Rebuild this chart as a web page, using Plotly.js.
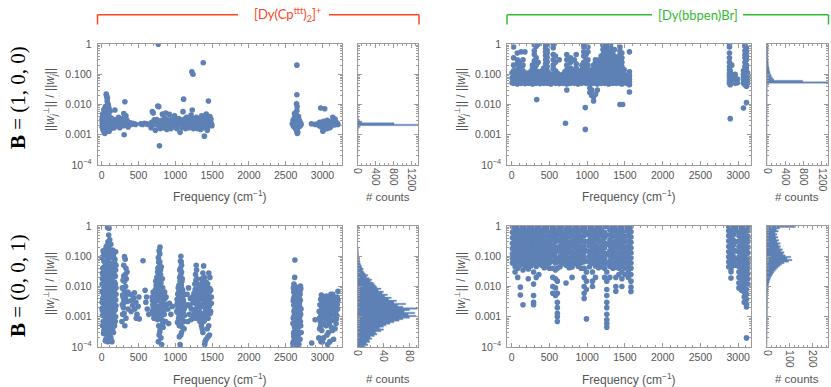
<!DOCTYPE html>
<html><head><meta charset="utf-8">
<script src="https://cdn.plot.ly/plotly-3.0.1.min.js"></script>
<style>html,body{margin:0;padding:0;background:#fff}#chart{width:831px;height:387px}</style>
</head><body><div id="chart"></div>
<script>
// ---------- DATA ----------
// Top-left: [Dy(Cpttt)2]+, B=(1,0,0)  — [frequency, ratio]
const tlPoints = [
[8,0.0024],[12,0.0029],[16,0.0019],[20,0.0034],[24,0.0022],[28,0.0026],[32,0.0016],[36,0.0041],[40,0.0023],[44,0.0028],[48,0.0020],[52,0.0031],[56,0.0024],[60,0.0017],[64,0.0027],[68,0.0036],[72,0.0022],[76,0.0025],[80,0.0019],[84,0.0030],[88,0.0023],[92,0.0027],[96,0.0021],[100,0.0025],[105,0.0033],[110,0.0022],[118,0.0026],[125,0.0020],[132,0.0024],[140,0.0029],[148,0.0022],[156,0.0025],[165,0.0021],[175,0.0024],
[14,0.0048],[26,0.0013],[38,0.0058],[46,0.0012],[58,0.0046],[66,0.0014],[74,0.0052],[86,0.0016],[94,0.0044],[102,0.0013],[112,0.0038],[122,0.0016],[135,0.0035],[150,0.0017],[10,0.0038],[30,0.0068],[50,0.0085],[62,0.022],[66,0.0195],[70,0.018],[78,0.016],[74,0.013],[82,0.011],[90,0.0095],[100,0.0075],[115,0.0060],[180,0.0066],[42,0.0011],[18,0.0015],
[4,0.0031],[22,0.0040],[34,0.0027],[54,0.0036],[78,0.0033],[98,0.0029],[128,0.0030],[160,0.0031],[6,0.0018],[40,0.0019],[70,0.0016],[108,0.0019],[144,0.0020],[170,0.0017],
[190,0.0023],[205,0.0026],[220,0.0021],[235,0.0024],[250,0.0022],[265,0.0027],[280,0.0023],[295,0.0020],[310,0.0025],[325,0.0022],[340,0.0024],[355,0.0021],[370,0.0023],[385,0.0025],[400,0.0022],[420,0.0024],[440,0.0023],[460,0.0022],[200,0.0032],[245,0.0017],[285,0.0034],[300,0.0050],[315,0.0123],[305,0.0010],[330,0.0042],[345,0.0030],[360,0.0018],[230,0.0038],
[530,0.0023],[555,0.0022],[580,0.0024],[605,0.0023],[630,0.0022],
[665,0.0023],[680,0.0026],[695,0.0021],[710,0.0024],[725,0.0022],[740,0.0027],[755,0.0023],[770,0.0020],[785,0.0025],[800,0.0022],[815,0.0024],[830,0.0021],[845,0.0026],[860,0.0023],[875,0.0020],[890,0.0024],[905,0.0022],[920,0.0025],[935,0.0023],[950,0.0021],[965,0.0024],[980,0.0022],[995,0.0026],[1010,0.0023],[1025,0.0021],[1040,0.0024],[1055,0.0022],[1070,0.0025],[1085,0.0023],[1100,0.0021],[1115,0.0024],[1130,0.0022],[1145,0.0026],[1160,0.0023],[1175,0.0021],[1190,0.0025],[1205,0.0022],[1220,0.0024],[1235,0.0021],[1250,0.0026],[1265,0.0023],[1280,0.0020],[1295,0.0025],[1310,0.0022],[1325,0.0027],
[672,0.0017],[688,0.0058],[700,0.0052],[715,0.0031],[730,0.0014],[748,0.0032],[762,0.0089],[775,0.0085],[770,0.99],[785,0.00043],[795,0.0016],[812,0.0030],[825,0.0048],[840,0.0017],[858,0.0035],[870,0.0052],[885,0.0015],[900,0.0031],[918,0.0047],[940,0.0016],[958,0.0033],[975,0.0018],[990,0.0042],[1005,0.0032],[1020,0.0016],[1048,0.0034],[1065,0.0012],[1078,0.0030],[1092,0.0017],[1105,0.0058],[1113,0.015],[1125,0.0033],[1140,0.0016],[1155,0.0038],[1170,0.0030],[1185,0.0017],[1200,0.0035],[1215,0.0045],[1225,0.12],[1240,0.10],[1230,0.0066],[1245,0.0016],[1258,0.0034],[1272,0.0017],[1288,0.0038],[1300,0.0016],[1315,0.0033],[1330,0.0018],
[1340,0.0023],[1348,0.0029],[1355,0.0019],[1362,0.0026],[1370,0.0032],[1378,0.0021],[1385,0.0025],[1392,0.0017],[1400,0.0028],[1408,0.0023],[1415,0.0036],[1422,0.0020],[1430,0.0026],[1438,0.0022],[1445,0.0031],[1452,0.0019],[1460,0.0024],[1468,0.0028],[1475,0.0021],[1482,0.0025],[1490,0.0023],[1498,0.0020],[1380,0.24],[1450,0.013],[1395,0.0009],[1360,0.0042],[1420,0.0048],[1470,0.0040],[1345,0.0015],[1435,0.0014],[1390,0.0035],[1485,0.0033],
[2590,0.0023],[2600,0.0030],[2605,0.0019],[2612,0.0026],[2618,0.0036],[2622,0.0021],[2628,0.0045],[2632,0.0016],[2638,0.0028],[2642,0.0055],[2646,0.0024],[2650,0.0013],[2652,0.0062],[2655,0.0020],[2660,0.0032],[2665,0.0017],[2670,0.0026],[2675,0.0040],[2680,0.0022],[2686,0.0030],[2692,0.0019],[2700,0.0025],[2710,0.0022],[2648,0.0105],[2655,0.0085],[2652,0.021],[2652,0.2],[2658,0.0011],[2620,0.0050],[2664,0.0012],
[2850,0.0023],[2900,0.0022],
[2945,0.0024],[2955,0.0020],[2965,0.0026],[2975,0.0022],[2985,0.0018],[2995,0.0025],[3005,0.0021],[3015,0.0028],[3025,0.0023],[3035,0.0019],[3045,0.0026],[3055,0.0022],[3065,0.0030],[3075,0.0024],[3085,0.0020],[3095,0.0027],[3105,0.0023],[3115,0.0019],[3125,0.0025],[3135,0.0022],[3145,0.0028],[3155,0.0024],[3165,0.0021],[3175,0.0026],[3185,0.0023],[3195,0.0025],[3210,0.0022],[2975,0.0077],[3030,0.0072],[3005,0.0013],[3015,0.0015],[3140,0.0038],[3170,0.0033],[3060,0.0016],[3100,0.0017]
];

// Top-right: [Dy(bbpen)Br], B=(1,0,0) — [frequency, [ratios at that frequency]]
const trColumns = [
[5,[0.052,0.075,0.11]],[25,[0.05,0.065,0.09,0.13,0.2,0.35,0.8]],[50,[0.055,0.08,0.1]],[75,[0.048,0.07,0.095,0.14,0.22,0.3,0.5]],[100,[0.053,0.068,0.12,0.17,0.25]],[125,[0.05,0.085,0.105,0.55]],[150,[0.056,0.072,0.1,0.13,0.2,0.3]],[175,[0.049,0.066,0.09,0.55]],[200,[0.052,0.078,0.11]],[225,[0.05,0.062,0.085]],[250,[0.055,0.07,0.095,0.12]],[275,[0.048,0.068,0.1,0.15,0.2]],[300,[0.053,0.075,0.11,0.16,0.28,0.45,0.6,0.95]],[325,[0.05,0.065,0.09,0.13,0.2,0.35,0.85]],[332,[0.0145]],[350,[0.055,0.08,0.12,0.25,0.98]],[375,[0.049,0.07,0.095]],[400,[0.052,0.065,0.088,0.13]],[425,[0.05,0.075,0.11,0.16]],[450,[0.056,0.07,0.1,0.14,0.22,0.3,0.42,0.55,0.7,0.9]],[470,[0.05,0.068,0.095,0.13,0.18,0.26,0.36,0.5,0.62,0.98]],[495,[0.053,0.08,0.11]],[520,[0.048,0.066,0.09]],[550,[0.055,0.072,0.1,0.15,0.2,0.3,0.45,0.75,0.98]],[580,[0.05,0.065,0.09,0.13,0.25,0.4]],[605,[0.052,0.078,0.11]],[630,[0.049,0.068,0.095,0.3]],[655,[0.053,0.075]],[680,[0.05,0.07,0.1]],[705,[0.055,0.065,0.09,0.12]],[713,[0.0024]],[730,[0.048,0.072,0.1,0.14,0.2,0.3,0.45,0.03]],[755,[0.052,0.068,0.095,0.13]],[780,[0.05,0.08,0.11,0.16,0.25,0.35]],[805,[0.056,0.07,0.1,0.14]],[830,[0.05,0.066,0.09,0.13,0.3]],[855,[0.053,0.075,0.11,0.16,0.22,0.45]],[880,[0.048,0.065,0.088]],[905,[0.052,0.072,0.1,0.13]],[930,[0.05,0.07,0.095,0.14,0.2]],[955,[0.055,0.08,0.11,0.16,0.25,0.4,0.55,0.8,0.98]],[975,[0.0079,0.0015]],[985,[0.05,0.068,0.09,0.13,0.22,0.3,0.45]],[1010,[0.053,0.075,0.1,0.14,0.2,0.3,0.55,0.8]],[1035,[0.049,0.065,0.09,0.12,0.035,0.025]],[1060,[0.052,0.072,0.1,0.14,0.02,0.03]],[1085,[0.05,0.07,0.095,0.13,0.2,0.013,0.018]],[1110,[0.055,0.08,0.11,0.16,0.25,0.3,0.022]],[1135,[0.048,0.066,0.09,0.13,0.2,0.03]],[1160,[0.053,0.075,0.1,0.14,0.22,0.3]],[1185,[0.05,0.068,0.095,0.13,0.18,0.25,0.4]],[1210,[0.052,0.072,0.1,0.14,0.2,0.3,0.45,0.65,0.9,0.98]],[1235,[0.05,0.07,0.095,0.13,0.18,0.26,0.38,0.5,0.75]],[1260,[0.055,0.08,0.11,0.16,0.22,0.32,0.45,0.6,0.85,0.98]],[1285,[0.048,0.066,0.09,0.13,0.19,0.27,0.4,0.55,0.7]],[1310,[0.053,0.075,0.1,0.14,0.2,0.3,0.42,0.6,0.8,0.98]],[1335,[0.05,0.068,0.095,0.13,0.18,0.26,0.36,0.5]],[1360,[0.052,0.072,0.1,0.14,0.2,0.28,0.4,0.65]],[1385,[0.05,0.07,0.095,0.13,0.18,0.25,0.35]],[1410,[0.055,0.08,0.11,0.16,0.22,0.3]],[1434,[0.01,0.05,0.07,0.09,0.12,0.2,0.3,0.45,0.6,0.8]],[1460,[0.048,0.066,0.09,0.13,0.18,0.25,0.35,0.5]],[1470,[0.01]],[1490,[0.053,0.075,0.1,0.14]],[1520,[0.05,0.068,0.09]],[1560,[0.026,0.045,0.055,0.07,0.09,0.12,0.55]],
[2885,[0.05,0.06,0.075,0.09,0.11,0.14,0.18,0.25,0.35,0.5,0.8,0.98]],[2895,[0.0034,0.045,0.065,0.085,0.1,0.13]],[2915,[0.055,0.07,0.095,0.2]],[2960,[0.05,0.065,0.08,0.1]],[2990,[0.052,0.07]],[3070,[0.0076,0.05,0.065,0.08,0.1,0.13]],[3090,[0.045,0.055,0.07,0.09,0.11,0.14,0.18,0.25,0.35,0.45,0.6,0.85,0.98]],[3110,[0.0115,0.04,0.05,0.06,0.075,0.095,0.12,0.16,0.2,0.3,0.4,0.55,0.75]],[3125,[0.05,0.065,0.085,0.11]]
];

// Bottom-left: [Dy(Cpttt)2]+, B=(0,0,1) — [frequency, ratio]
const blPoints = [
[20,0.15],[45,0.11],[70,0.19],[95,0.13],[120,0.09],[150,0.16],[180,0.08],[30,0.07],[60,0.055],[85,0.085],[110,0.06],[140,0.045],[170,0.05],[190,0.035],[15,0.04],[40,0.03],[65,0.038],[90,0.028],[115,0.033],[135,0.025],[160,0.03],[185,0.022],
[80,0.9],[100,0.85],[95,0.5],[110,0.35],[85,0.3],[125,0.25],[70,0.22],[60,0.2],
[10,0.018],[35,0.014],[55,0.02],[80,0.016],[105,0.012],[130,0.017],[155,0.011],[175,0.014],[195,0.009],[25,0.01],[50,0.0085],[75,0.011],[100,0.0075],[125,0.009],[150,0.0065],[170,0.008],[20,0.006],[45,0.0055],[70,0.0068],[95,0.0048],[120,0.0058],[145,0.0044],[165,0.005],[190,0.0036],[15,0.004],[40,0.0033],[60,0.0038],[85,0.003],[110,0.0035],[135,0.0028],[160,0.0031],[180,0.0024],[30,0.0025],[55,0.0022],[80,0.0026],[105,0.002],[130,0.0023],[155,0.0018],[175,0.0021],
[10,0.0016],[35,0.0014],[65,0.0017],[90,0.0013],[115,0.0015],[140,0.0012],[165,0.0014],[190,0.001],[25,0.0011],[50,0.00095],[75,0.0011],[100,0.00085],[125,0.001],[150,0.0008],[170,0.0009],[20,0.0007],[45,0.00065],[70,0.0008],[95,0.0006],[120,0.00072],[145,0.00055],[160,0.00062],[40,0.00048],[65,0.00042],[85,0.0005],[110,0.00038],[130,0.00045],[60,0.0003],[95,0.00032],[115,0.00026],[80,0.00022],[50,0.00016],[105,0.00018],[140,0.00015],[30,0.00035],
[5,0.09],[30,0.12],[55,0.14],[80,0.1],[105,0.17],[130,0.12],[160,0.1],[190,0.14],[10,0.028],[35,0.045],[50,0.065],[75,0.045],[100,0.04],[125,0.055],[150,0.038],[175,0.065],[195,0.05],[20,0.024],[45,0.02],[70,0.03],[95,0.021],[120,0.026],[145,0.019],[170,0.025],[5,0.012],[30,0.016],[60,0.013],[90,0.018],[115,0.009],[140,0.013],[165,0.009],[185,0.012],[5,0.007],[35,0.0075],[65,0.0092],[85,0.0062],[110,0.0085],[140,0.008],[175,0.006],[195,0.0055],[5,0.003],[25,0.0045],[50,0.0027],[75,0.0041],[100,0.0029],[125,0.004],[150,0.0026],[170,0.0038],[195,0.0023],[5,0.0019],[30,0.0017],[60,0.0019],[85,0.0021],[110,0.0017],[135,0.0019],[160,0.0016],[185,0.0017],[10,0.0011],[40,0.0012],[60,0.001],[90,0.00095],[110,0.0012],[135,0.0008],[160,0.0011],[185,0.0007],[10,0.0005],[35,0.00058],[55,0.00052],[75,0.00045],[105,0.0005],[125,0.00058],[150,0.00042],[175,0.0005],[25,0.00028],[70,0.00028],[90,0.00025],[120,0.00032],[160,0.0003],[60,0.00019],[125,0.0002],[85,0.00015],
[275,0.0007],[285,0.0012],[295,0.002],[305,0.0035],[315,0.006],[325,0.01],[335,0.018],[345,0.03],[300,0.05],[320,0.08],[310,0.097],[280,0.0025],[290,0.0045],[300,0.008],[310,0.015],[320,0.025],[330,0.04],[340,0.0055],[350,0.0032],[360,0.0018],[330,0.0009],[315,0.0005],[305,0.0013],[295,0.0028],[285,0.0052],[280,0.009],[290,0.016],[300,0.022],[355,0.0065],[325,0.0042],
[390,0.0055],[405,0.0035],[420,0.0024],[435,0.0042],[450,0.0018],[465,0.003],[480,0.0012],[495,0.0022],[510,0.00085],[400,0.0015],[445,0.0062],[470,0.0009],[505,0.0045],
[562,0.071],[590,0.0075],[610,0.0045],[600,0.003],[620,0.0018],[640,0.0012],
[685,0.0045],[695,0.0025],[705,0.0012],[715,0.0065],[725,0.0018],[735,0.0035],[745,0.0009],[755,0.0055],[765,0.015],[775,0.025],[785,0.045],[792,0.2],[780,0.15],[770,0.09],[790,0.065],[800,0.035],[760,0.03],[750,0.02],[740,0.011],[730,0.008],[720,0.0028],[710,0.0045],[700,0.0065],[690,0.0015],[760,0.0008],[775,0.0005],[790,0.00032],[805,0.0002],[815,0.00012],[800,0.0015],[810,0.003],[820,0.005],[830,0.009],[840,0.0022],[850,0.0012],[860,0.004],[870,0.0007],[880,0.0025],[795,0.0095],[785,0.006],[770,0.0035],[820,0.0008],[835,0.00045],[845,0.0055],[765,0.0022],[780,0.0016],[805,0.013],[825,0.018],[812,0.0068],
[690,0.0035],[700,0.002],[710,0.0009],[720,0.006],[730,0.0045],[740,0.0022],[750,0.0013],[760,0.0045],[770,0.007],[780,0.011],[790,0.018],[800,0.025],[810,0.045],[775,0.065],[765,0.04],[755,0.012],[745,0.0075],[735,0.015],[800,0.0055],[810,0.0011],[795,0.0004],[780,0.00025],[770,0.00015],[785,0.0009],[795,0.0022],[805,0.0038],[815,0.0085],[825,0.0032],[835,0.0016],[845,0.0028],[855,0.0065],[865,0.0018],[875,0.0045],[760,0.0012],[725,0.0012],[740,0.0055],[830,0.0006],[850,0.0025],[790,0.12],[780,0.045],[770,0.028],[805,0.0075],
[900,0.0018],[920,0.0028],[940,0.0012],[960,0.0022],[910,0.0006],
[1020,0.0015],[1030,0.003],[1040,0.006],[1050,0.011],[1060,0.02],[1070,0.04],[1076,0.1],[1080,0.065],[1085,0.03],[1090,0.015],[1095,0.008],[1100,0.0045],[1105,0.0025],[1110,0.0013],[1115,0.0007],[1120,0.0004],[1075,0.00025],[1065,0.00012],[1055,0.0005],[1045,0.0009],[1035,0.0018],[1025,0.0038],[1060,0.0065],[1070,0.0035],[1080,0.0016],[1090,0.0028],[1100,0.0012],[1125,0.0055],[1130,0.0022],[1085,0.0085],[1050,0.0025],[1075,0.013],[1065,0.0009],
[1025,0.0025],[1035,0.0055],[1045,0.004],[1055,0.0075],[1065,0.015],[1075,0.025],[1085,0.05],[1070,0.07],[1060,0.035],[1080,0.0045],[1090,0.0055],[1100,0.0075],[1110,0.0035],[1120,0.0018],[1105,0.00075],[1095,0.00045],[1085,0.0003],[1075,0.00055],[1060,0.0012],[1050,0.0017],[1040,0.0013],[1030,0.00065],[1045,0.0025],[1115,0.0028],[1125,0.0011],[1055,0.00022],[1070,0.0021],[1080,0.011],[1095,0.018],[1040,0.009],
[1160,0.0055],[1175,0.0025],[1190,0.0012],[1205,0.004],[1180,0.009],[1170,0.0007],[1220,0.0018],[1240,0.003],[1255,0.006],[1265,0.012],[1275,0.025],[1285,0.05],[1295,0.018],[1305,0.008],[1315,0.0035],[1325,0.0015],[1335,0.0007],[1270,0.0028],[1280,0.0045],[1290,0.0009],[1300,0.0022],[1310,0.0012],[1320,0.0065],[1330,0.011],[1260,0.0016],[1245,0.0009],
[1345,0.004],[1355,0.0075],[1365,0.014],[1375,0.028],[1385,0.048],[1395,0.02],[1405,0.01],[1415,0.0055],[1425,0.003],[1435,0.0016],[1445,0.0009],[1455,0.0005],[1465,0.00025],[1400,0.00012],[1420,0.00018],[1350,0.0013],[1360,0.0025],[1370,0.0045],[1380,0.0085],[1390,0.0032],[1410,0.0018],[1430,0.0065],[1440,0.012],[1450,0.0035],[1460,0.0022],[1470,0.0042],[1480,0.0075],[1490,0.0028],[1475,0.0013],[1385,0.0007],[1365,0.0004],[1455,0.028],[1470,0.02],
[1200,0.0022],[1215,0.0008],[1230,0.0045],[1250,0.0012],[1260,0.004],[1270,0.008],[1280,0.016],[1290,0.035],[1300,0.012],[1310,0.0055],[1320,0.0025],[1330,0.0045],[1340,0.0022],[1350,0.0095],[1360,0.018],[1370,0.0065],[1380,0.0012],[1390,0.0055],[1400,0.0032],[1410,0.0095],[1420,0.014],[1430,0.0025],[1440,0.0045],[1450,0.0012],[1460,0.0065],[1470,0.0085],[1480,0.0015],[1490,0.0045],[1355,0.0005],[1375,0.0003],[1395,0.00075],[1415,0.0009],[1435,0.0004],[1445,0.00022],[1405,0.00015],[1345,0.0009],[1285,0.0018],[1305,0.0011],[1325,0.0008],[1365,0.0022],[1425,0.0045],[1395,0.0013],
[2600,0.0001],[2605,0.00015],[2610,0.00022],[2615,0.00032],[2620,0.00045],[2625,0.00065],[2630,0.0009],[2635,0.0013],[2640,0.0018],[2645,0.0025],[2650,0.0035],[2655,0.0048],[2660,0.0065],[2665,0.0085],[2625,0.075],[2622,0.02],[2612,0.012],[2605,0.009],[2700,0.0104],[2690,0.0085],[2695,0.0055],[2685,0.004],[2675,0.003],[2670,0.002],[2680,0.0014],[2690,0.001],[2700,0.0007],[2705,0.0005],[2710,0.0003],[2695,0.00018],[2680,0.00012],[2670,0.00025],[2660,0.00038],[2650,0.00055],[2640,0.0008],[2630,0.0012],[2620,0.0017],[2610,0.0024],[2603,0.0033],[2615,0.0045],[2628,0.0062],[2638,0.0028],[2648,0.0016],[2658,0.0011],[2668,0.0007],[2678,0.00048],[2688,0.0003],[2598,0.0006],[2608,0.004],[2618,0.0075],[2635,0.0042],[2655,0.0022],[2665,0.0014],[2645,0.00018],[2620,0.00012],
[2598,0.00013],[2608,0.00028],[2618,0.00055],[2628,0.00028],[2638,0.00045],[2648,0.00038],[2658,0.00075],[2668,0.0045],[2678,0.0065],[2688,0.0022],[2698,0.0035],[2703,0.0012],[2708,0.0018],[2693,0.0013],[2683,0.0009],[2673,0.00055],[2663,0.00016],[2653,0.00012],[2643,0.0011],[2633,0.0019],[2623,0.0027],[2613,0.0015],[2603,0.0009],[2615,0.0011],[2625,0.0035],[2635,0.0065],[2645,0.0048],[2655,0.0032],[2665,0.0038],[2675,0.0017],[2685,0.0028],[2695,0.0072],[2705,0.0085],[2610,0.0065],[2640,0.0095],[2660,0.0025],[2625,0.00085],
[2853,0.000135],[2900,0.0008],
[2950,0.0002],[2960,0.0004],[2970,0.0007],[2980,0.0012],[2990,0.002],[3000,0.0033],[3010,0.0046],[3020,0.0028],[3030,0.0016],[3040,0.0009],[3050,0.0005],[3060,0.00025],[3070,0.00012],[3080,0.0003],[3090,0.0006],[3100,0.001],[3110,0.0018],[3120,0.003],[3130,0.0045],[3140,0.0025],[3150,0.0014],[3160,0.0008],[3170,0.0004],[3180,0.0015],[3190,0.0028],[3200,0.0045],[3210,0.007],[2955,0.0015],[2965,0.0025],[2975,0.0038],[2985,0.0052],[2995,0.0009],[3005,0.00055],[3015,0.0002],[3025,0.0011],[3035,0.0022],[3045,0.0037],[3055,0.0048],[3065,0.0019],[3075,0.0008],[3085,0.0013],[3095,0.0026],[3105,0.0040],[3115,0.0055],[3125,0.00075],[3135,0.00035],[3145,0.0012],[3155,0.0023],[3165,0.0035],[3175,0.0020],[3185,0.0006],[3195,0.0011],[3205,0.0018],[2980,0.00015],[3100,0.00015],[3150,0.00018],
[2960,0.0009],[2975,0.0005],[2990,0.00035],[3000,0.00015],[3010,0.0015],[3020,0.0006],[3035,0.0045],[3050,0.0028],[3060,0.0012],[3070,0.0035],[3080,0.0021],[3090,0.0045],[3100,0.0032],[3110,0.0008],[3120,0.00045],[3130,0.0015],[3140,0.0055],[3150,0.0035],[3160,0.0022],[3170,0.0012],[3180,0.0042],[3190,0.00085],[3200,0.0025],[3210,0.0035]
];

// Bottom-right: [Dy(bbpen)Br], B=(0,0,1) — [frequency, [ratios]]
const brColumns = [
[10,[0.97,0.62,0.41,0.27,0.18,0.12,0.085,0.06]],
[45,[0.98,0.75,0.5,0.33,0.22,0.15,0.1,0.07,0.045,0.03]],
[80,[0.96,0.68,0.45,0.3,0.2,0.13,0.09,0.06,0.04,0.02]],
[115,[0.97,0.8,0.55,0.36,0.24,0.16,0.11,0.075,0.05,0.0095,0.0052]],
[150,[0.95,0.65,0.43,0.28,0.19,0.125,0.085,0.058,0.035,0.0025]],
[185,[0.98,0.72,0.48,0.32,0.21,0.14,0.095,0.065,0.045]],
[220,[0.96,0.6,0.4,0.26,0.17,0.115,0.08,0.055,0.038,0.018]],
[255,[0.97,0.78,0.52,0.35,0.23,0.155,0.105,0.07,0.048]],
[290,[0.95,0.66,0.44,0.29,0.2,0.13,0.088,0.06,0.03,0.012,0.005,0.003,0.0025]],
[325,[0.98,0.74,0.49,0.33,0.22,0.15,0.1,0.068,0.046,0.02]],
[360,[0.96,0.63,0.42,0.28,0.185,0.125,0.085,0.058,0.025]],
[395,[0.97,0.76,0.51,0.34,0.23,0.155,0.105,0.072,0.05]],
[430,[0.95,0.68,0.46,0.3,0.2,0.135,0.09,0.062,0.042]],
[465,[0.98,0.72,0.48,0.32,0.215,0.145,0.098,0.066,0.045]],
[500,[0.96,0.64,0.43,0.29,0.19,0.13,0.088,0.06,0.04]],
[545,[0.97,0.77,0.52,0.35,0.23,0.155,0.105,0.07,0.04,0.02,0.01,0.006]],
[580,[0.95,0.67,0.45,0.3,0.2,0.135,0.09,0.06,0.035,0.018,0.009,0.005]],
[605,[0.98,0.6,0.33,0.17,0.08,0.04,0.015,0.006,0.003,0.002,0.0013,0.001,0.0007]],
[640,[0.96,0.73,0.49,0.33,0.22,0.145,0.1,0.065,0.045]],
[680,[0.97,0.62,0.42,0.28,0.185,0.125,0.085,0.058]],
[720,[0.95,0.75,0.5,0.34,0.225,0.15,0.1,0.07,0.05,0.013]],
[760,[0.98,0.66,0.44,0.29,0.195,0.13,0.088,0.06,0.042]],
[800,[0.96,0.71,0.47,0.31,0.21,0.14,0.095,0.064,0.044,0.02]],
[840,[0.97,0.63,0.42,0.28,0.19,0.127,0.086,0.058]],
[880,[0.95,0.76,0.51,0.34,0.228,0.152,0.102,0.069,0.047]],
[920,[0.98,0.68,0.45,0.3,0.2,0.134,0.09,0.061,0.04]],
[960,[0.96,0.72,0.48,0.32,0.213,0.143,0.097,0.066,0.04,0.02,0.01,0.006,0.004]],
[990,[0.97,0.6,0.3,0.15,0.07,0.03,0.015,0.008,0.00085]],
[1030,[0.95,0.74,0.49,0.33,0.22,0.147,0.099,0.067,0.045]],
[1070,[0.98,0.65,0.43,0.29,0.193,0.13,0.087,0.059,0.03,0.015,0.01]],
[1110,[0.96,0.77,0.52,0.35,0.23,0.156,0.105,0.071,0.048,0.02]],
[1150,[0.97,0.67,0.45,0.3,0.2,0.135,0.09,0.062,0.042]],
[1190,[0.95,0.72,0.48,0.32,0.214,0.144,0.097,0.066,0.045]],
[1230,[0.98,0.62,0.42,0.28,0.187,0.126,0.085,0.058,0.04,0.02]],
[1260,[0.96,0.5,0.25,0.12,0.06,0.03,0.015,0.008,0.005,0.003,0.002,0.0012,0.0008,0.0006,0.00045]],
[1300,[0.97,0.75,0.5,0.34,0.226,0.152,0.102,0.069,0.047,0.02]],
[1340,[0.95,0.66,0.44,0.29,0.196,0.132,0.089,0.06,0.04]],
[1380,[0.98,0.71,0.47,0.31,0.21,0.14,0.095,0.064,0.043,0.02,0.01,0.007]],
[1420,[0.96,0.63,0.42,0.28,0.19,0.128,0.086,0.058,0.04,0.025]],
[1460,[0.97,0.76,0.51,0.34,0.228,0.153,0.103,0.07,0.047,0.03,0.018,0.01]],
[1500,[0.95,0.68,0.45,0.3,0.2,0.134,0.09,0.061,0.041,0.025]],
[1545,[0.98,0.72,0.48,0.32,0.213,0.143,0.097,0.066,0.045,0.03,0.02]],
[1580,[0.96,0.64,0.43,0.29,0.19,0.13,0.088,0.06,0.04,0.025,0.015,0.0095,0.0068]],
[2875,[0.97,0.7,0.48,0.32,0.21,0.14,0.095,0.065,0.045]],
[2905,[0.95,0.62,0.42,0.28,0.19,0.125,0.085,0.058,0.04,0.031,0.019]],
[2935,[0.98,0.76,0.5,0.34,0.225,0.15,0.1,0.068,0.05]],
[2965,[0.96,0.66,0.3,0.15,0.08,0.05]],
[3010,[0.97,0.72,0.48,0.32,0.21,0.14,0.095,0.065,0.045,0.03,0.02,0.013,0.009]],
[3045,[0.95,0.64,0.43,0.29,0.19,0.128,0.086,0.058,0.04,0.026,0.017,0.011,0.0075]],
[3080,[0.98,0.75,0.5,0.34,0.226,0.152,0.102,0.069,0.047,0.032,0.021,0.014,0.0095,0.0065,0.0045,0.003]],
[3110,[0.96,0.68,0.45,0.3,0.2,0.134,0.09,0.061,0.041,0.028,0.019,0.012,0.008,0.0055,0.0038,0.0026,0.0021,0.0002]],
[3130,[0.97,0.7,0.46,0.31,0.2,0.13,0.088,0.06,0.04,0.027,0.018,0.012]]
];

// Histograms: counts per bin of log10(ratio), bins of 0.05 decades from 1e-4 up to 1
const histLogStart = -4;
const histLogWidth = 0.05;
const tlHistCounts = [0,0,0,0,0,0,0,0,0,0, 0,0,1,0,0,0,0,0,0,1, 3,5,8,15,30,60,1500,820,100,50, 25,15,10,7,5,4,3,3,2,2, 2,1,2,1,1,1,0,0,0,0, 0,0,0,0,0,0,0,0,0,0, 0,1,1,0,0,0,1,1,0,0, 0,0,0,0,0,0,0,0,0,1];
const trHistCounts = [0,0,0,0,0,0,0,0,0,0, 0,0,0,0,0,0,0,0,0,0, 0,0,0,1,0,0,0,1,0,0, 1,0,0,0,0,0,0,0,1,0, 3,1,0,2,0,0,2,1,2,0, 2,3,6,40,1500,780,150,120,100,85, 72,62,54,47,42,36,32,29,26,24, 21,19,18,17,16,15,15,16,19,28];
const blHistCounts = [12,16,14,19,18,22,20,26,30,28, 36,40,34,40,44,50,56,64,70,80, 90,78,88,72,80,92,70,62,74,56, 60,48,52,42,46,38,40,32,36,30, 28,26,24,20,22,18,14,16,12,10, 8,9,7,6,5,4,4,3,3,2, 2,2,1,1,1,1,0,1,0,1, 0,0,0,0,0,0,0,0,0,2];
const brHistCounts = [0,0,0,0,0,0,1,0,0,0, 0,0,0,1,0,0,1,0,1,0, 1,0,1,0,2,0,1,0,2,0, 2,1,3,2,3,3,4,4,5,5, 6,7,9,10,13,15,18,22,26,30, 36,42,48,56,64,75,95,110,88,105, 80,70,75,62,68,55,60,50,58,45, 52,40,48,38,44,36,50,42,55,125];

// Tick labels
const freqTicks = [0,500,1000,1500,2000,2500,3000];
const ratioTickVals = [0.0001,0.001,0.01,0.1,1];
const ratioTickText = ['10<sup>\u22124</sup>','0.001','0.010','0.100','1'];
const histTicksTop = [0,400,800,1200];
const histTicksBL = [0,40,80];
const histTicksBR = [0,100,200];

// ---------- BUILD ----------
const W = 831, H = 387;
const px = p => p / W;
const py = p => 1 - p / H;
const BLUE = '#5E81B5';
const FRAME = '#9b9b9b';
const TXT = '#555555';
const FONT = 'Liberation Sans, Arial, sans-serif';

function pairsTrace(pts, xa, ya) {
  return {type:'scatter', mode:'markers', x: pts.map(p=>p[0]), y: pts.map(p=>p[1]),
    xaxis: xa, yaxis: ya, marker:{color: BLUE, size: 5.6}, hoverinfo:'skip', showlegend:false};
}
function colsTrace(cols, xa, ya) {
  const pts = [];
  cols.forEach(c => c[1].forEach(v => pts.push([c[0], v])));
  return pairsTrace(pts, xa, ya);
}
function histTrace(counts, xa, ya) {
  const x = [0], y = [Math.pow(10, histLogStart)];
  counts.forEach((c, i) => {
    const lo = Math.pow(10, histLogStart + i*histLogWidth);
    const hi = Math.pow(10, histLogStart + (i+1)*histLogWidth);
    x.push(c, c); y.push(lo, hi);
  });
  x.push(0); y.push(1);
  return {type:'scatter', mode:'lines', x, y, xaxis: xa, yaxis: ya, fill:'toself',
    fillcolor: BLUE, line:{color:'#7b98c4', width:0.4}, hoverinfo:'skip', showlegend:false};
}

const traces = [
  pairsTrace(tlPoints,'x','y'), histTrace(tlHistCounts,'x2','y2'),
  colsTrace(trColumns,'x3','y3'), histTrace(trHistCounts,'x4','y4'),
  pairsTrace(blPoints,'x5','y5'), histTrace(blHistCounts,'x6','y6'),
  colsTrace(brColumns,'x7','y7'), histTrace(brHistCounts,'x8','y8')
];

const tickfont = {family: FONT, size: 10.5, color: TXT};
function freqAxis(dom, range, anchor) {
  return {domain: dom, range: range, anchor: anchor, tickmode:'array', tickvals: freqTicks,
    ticks:'inside', ticklen:4, tickcolor: FRAME, showline:true, linecolor: FRAME, linewidth:1,
    mirror:'allticks', showgrid:false, zeroline:false, tickfont,
    minor:{ticks:'inside', ticklen:2, tickcolor: FRAME, tickmode:'linear', tick0:0, dtick:100, showgrid:false}};
}
function ratioAxis(dom, anchor, labels) {
  return {domain: dom, type:'log', range:[-4,0], anchor: anchor, tickmode:'array',
    tickvals: ratioTickVals, ticktext: ratioTickText, showticklabels: labels,
    ticks:'inside', ticklen:4, tickcolor: FRAME, showline:true, linecolor: FRAME, linewidth:1,
    mirror:'allticks', showgrid:false, zeroline:false, tickfont, ticklabelstandoff: 3,
    minor:{ticks:'inside', ticklen:2, tickcolor: FRAME, dtick:'D1', showgrid:false}};
}
function histAxis(dom, range, tv, anchor, minorStep) {
  return {domain: dom, range: range, anchor: anchor, tickmode:'array', tickvals: tv, tickangle: 90,
    ticks:'inside', ticklen:4, tickcolor: FRAME, showline:true, linecolor: FRAME, linewidth:1,
    mirror:'allticks', showgrid:false, zeroline:false, tickfont,
    minor:{ticks:'inside', ticklen:2, tickcolor: FRAME, tickmode:'linear', tick0:0, dtick:minorStep, showgrid:false}};
}

const colL = [px(97.7), px(342)], histL = [px(357.5), px(418)];
const colR = [px(507.3), px(751)], histR = [px(767), px(828)];
const rowT = [py(165), py(44)], rowB = [py(347), py(226)];

const layout = {
  width: W, height: H, margin:{l:0,r:0,t:0,b:0}, paper_bgcolor:'#fff', plot_bgcolor:'#fff',
  showlegend:false, font:{family: FONT, color: TXT},
  xaxis:  freqAxis(colL, [-54,3265], 'y'),
  yaxis:  ratioAxis(rowT, 'x', true),
  xaxis2: histAxis(histL, [0,1357], histTicksTop, 'y2', 100),
  yaxis2: ratioAxis(rowT, 'x2', false),
  xaxis3: freqAxis(colR, [-58,3170], 'y3'),
  yaxis3: ratioAxis(rowT, 'x3', true),
  xaxis4: histAxis(histR, [0,1332], histTicksTop, 'y4', 100),
  yaxis4: ratioAxis(rowT, 'x4', false),
  xaxis5: freqAxis(colL, [-54,3265], 'y5'),
  yaxis5: ratioAxis(rowB, 'x5', true),
  xaxis6: histAxis(histL, [0,93], histTicksBL, 'y6', 10),
  yaxis6: ratioAxis(rowB, 'x6', false),
  xaxis7: freqAxis(colR, [-58,3170], 'y7'),
  yaxis7: ratioAxis(rowB, 'x7', true),
  xaxis8: histAxis(histR, [0,268], histTicksBR, 'y8', 20),
  yaxis8: ratioAxis(rowB, 'x8', false),
  annotations: [], shapes: []
};

function ann(text, x, y, opts) {
  layout.annotations.push(Object.assign({text, xref:'paper', yref:'paper', x: px(x), y: py(y),
    xanchor:'center', yanchor:'middle', showarrow:false,
    font:{family: FONT, size: 12, color: TXT}}, opts || {}));
}
const yTitle = '||<i>w</i><sub><i>j</i></sub><sup>\u22a5</sup>|| / ||<i>w</i><sub><i>j</i></sub>||';
ann(yTitle, 50, 100, {textangle:-90});
ann(yTitle, 461, 100, {textangle:-90});
ann(yTitle, 50, 284, {textangle:-90});
ann(yTitle, 461, 284, {textangle:-90});
const fTitle = 'Frequency (cm<sup>\u22121</sup>)';
ann(fTitle, 220, 196); ann(fTitle, 629, 196);
ann(fTitle, 220, 379); ann(fTitle, 629, 379);
ann('# counts', 388, 197, {font:{family: FONT, size: 11.5, color: TXT}});
ann('# counts', 797, 197, {font:{family: FONT, size: 11.5, color: TXT}});
ann('# counts', 388, 379, {font:{family: FONT, size: 11.5, color: TXT}});
ann('# counts', 797, 379, {font:{family: FONT, size: 11.5, color: TXT}});
const serif = {family:'Liberation Serif, DejaVu Serif, serif', size: 21, color:'#000'};
ann('<b>B</b> = (1, 0, 0)', 18, 98, {textangle:-90, font: serif});
ann('<b>B</b> = (0, 0, 1)', 18, 286, {textangle:-90, font: serif});

const RED = '#FF4422', GREEN = '#33BB33';
ann('[Dy(Cp<sup>ttt</sup>)<sub>2</sub>]<sup>+</sup>', 287, 15, {font:{family:'Lato, sans-serif', size: 13, color: RED}});
ann('[Dy(bbpen)Br]', 698, 15, {font:{family:'Lato, sans-serif', size: 13, color: GREEN}});
function seg(x0,y0,x1,y1,c) {
  layout.shapes.push({type:'line', xref:'paper', yref:'paper', x0:px(x0), y0:py(y0), x1:px(x1), y1:py(y1),
    line:{color:c, width:1.5}});
}
seg(97.5,14.7,238,14.7,RED); seg(329,14.7,419,14.7,RED); seg(97.5,14.7,97.5,24.5,RED); seg(419,14.7,419,24.5,RED);
seg(507,14.7,652,14.7,GREEN); seg(743,14.7,828.5,14.7,GREEN); seg(507,14.7,507,24.5,GREEN); seg(828.5,14.7,828.5,24.5,GREEN);

Plotly.newPlot('chart', traces, layout, {staticPlot:true, displayModeBar:false});
</script>
</body></html>
